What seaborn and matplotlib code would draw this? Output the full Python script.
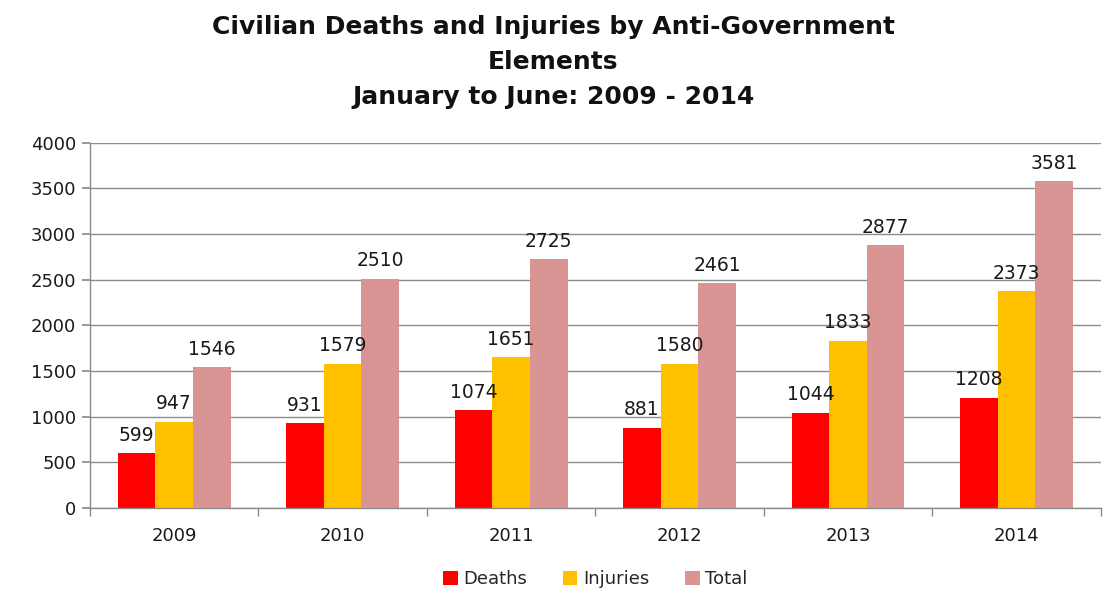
import matplotlib
matplotlib.use("Agg")
import matplotlib.pyplot as plt
import seaborn as sns
import pandas as pd
import numpy as np

years = ["2009", "2010", "2011", "2012", "2013", "2014"]
deaths = [599, 931, 1074, 881, 1044, 1208]
injuries = [947, 1579, 1651, 1580, 1833, 2373]
total = [1546, 2510, 2725, 2461, 2877, 3581]
series = ["Deaths", "Injuries", "Total"]
colors = ["#FF0000", "#FFC000", "#D99594"]

df = pd.DataFrame({
    "Year": years * 3,
    "Series": [s for s in series for _ in years],
    "Value": deaths + injuries + total,
})

sns.set_theme(style="white")
plt.rcParams['font.family'] = ['DejaVu Sans']

fig = plt.figure(figsize=(11.07, 5.90), dpi=100)
ax = fig.add_axes([0.0813, 0.139, 0.913, 0.619])

sns.barplot(data=df, x="Year", y="Value", hue="Series", palette=colors,
            width=0.67, ax=ax, legend=True, saturation=1, errorbar=None,
            linewidth=0, edgecolor="none")

for cont in ax.containers:
    ax.bar_label(cont, fmt="%d", padding=6, fontsize=13.5, color="#1a1a1a")

ax.set_ylim(0, 4000)
ax.set_yticks(np.arange(0, 4001, 500))
ax.set_xlim(-0.5, 5.5)
ax.yaxis.grid(True, color="#8c8c8c", linewidth=1)
ax.set_axisbelow(True)
ax.set_xlabel("")
ax.set_ylabel("")
for s in ["top", "right"]:
    ax.spines[s].set_visible(False)
for s in ["left", "bottom"]:
    ax.spines[s].set_color("#8c8c8c")
    ax.spines[s].set_linewidth(1)

ax.tick_params(axis="y", which="major", length=6, color="#8c8c8c", direction="out",
               labelsize=13, labelcolor="#1a1a1a", pad=4, left=True)
ax.tick_params(axis="x", which="major", length=0, labelsize=13, labelcolor="#1a1a1a", pad=14)
ax.set_xticks(np.arange(-0.5, 6, 1), minor=True)
ax.tick_params(axis="x", which="minor", length=6, color="#8c8c8c", direction="out", bottom=True)

leg = ax.legend(loc="center", bbox_to_anchor=(0.5, -0.195), ncol=3, frameon=False,
                fontsize=13, handlelength=0.8, handleheight=0.8, handletextpad=0.3,
                columnspacing=2.0, borderpad=0, borderaxespad=0)

fig.text(0.5, 0.955, "Civilian Deaths and Injuries by Anti-Government", ha="center",
         va="center", fontsize=18, fontweight="bold", color="#111111")
fig.text(0.5, 0.895, "Elements", ha="center", va="center", fontsize=18,
         fontweight="bold", color="#111111")
fig.text(0.5, 0.835, "January to June: 2009 - 2014", ha="center", va="center",
         fontsize=18, fontweight="bold", color="#111111")

fig.savefig("out.png", dpi=100)
